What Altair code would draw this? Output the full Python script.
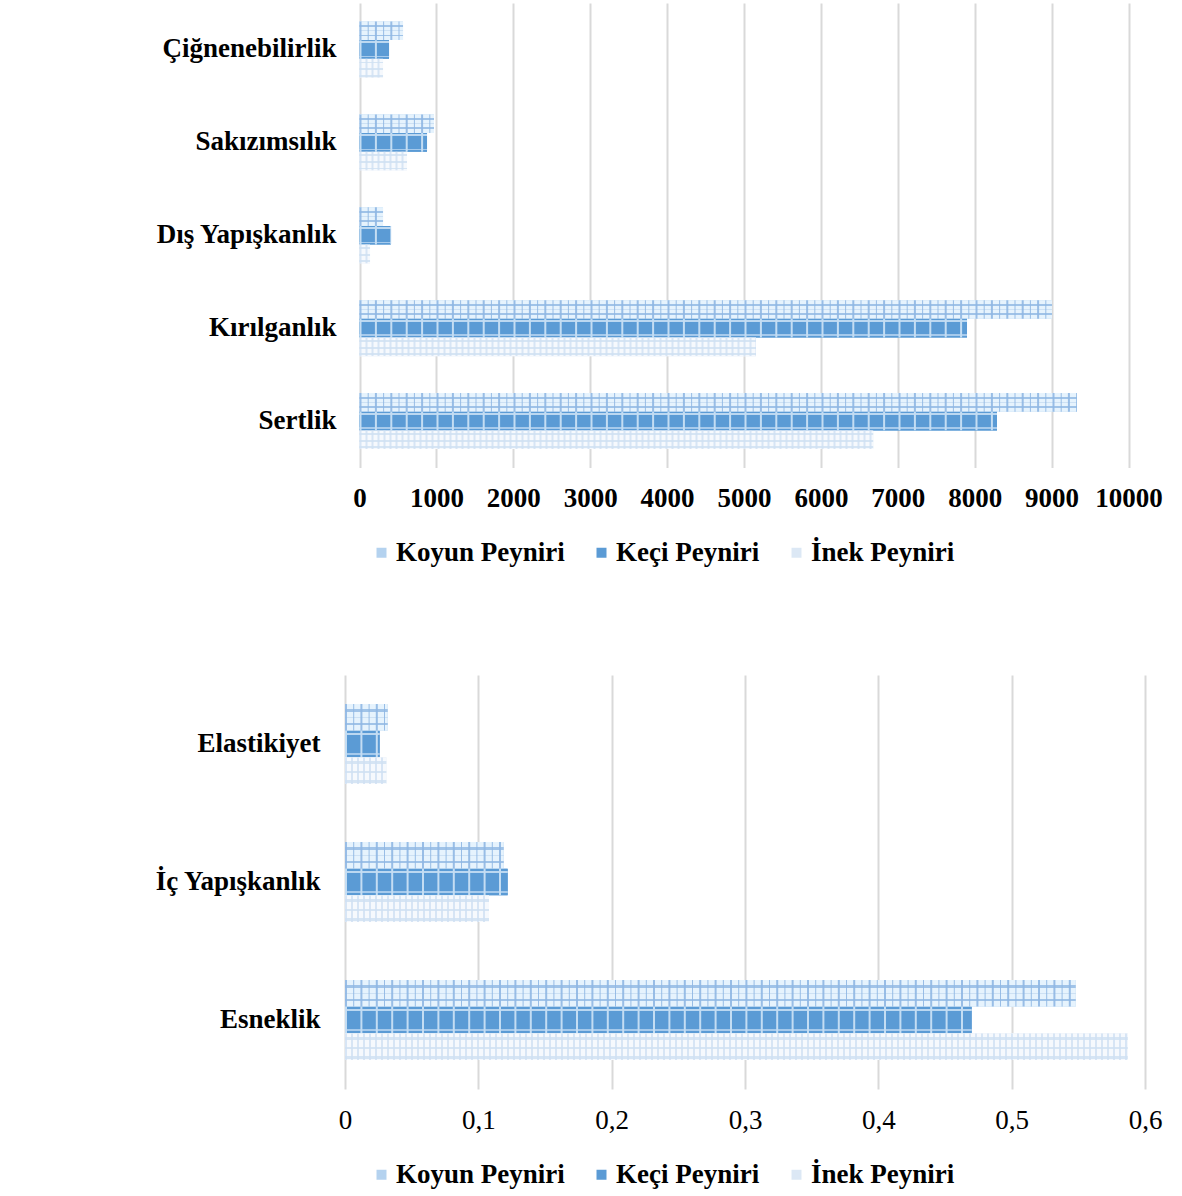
import altair as alt
import pandas as pd

# Series (cheese types), drawn top-to-bottom inside each category group
series = ["Koyun Peyniri", "Keçi Peyniri", "İnek Peyniri"]

# Upper panel: texture parameters measured in large units
top_categories = ["Çiğnenebilirlik", "Sakızımsılık", "Dış Yapışkanlık", "Kırılganlık", "Sertlik"]
top_koyun = [566, 969, 306, 9005, 9330]
top_keci = [384, 878, 410, 7900, 8290]
top_inek = [306, 618, 137, 5156, 6680]
top_ticks = [0, 1000, 2000, 3000, 4000, 5000, 6000, 7000, 8000, 9000, 10000]

# Lower panel: ratio-type texture parameters
bottom_categories = ["Elastikiyet", "İç Yapışkanlık", "Esneklik"]
bottom_koyun = [0.032, 0.119, 0.548]
bottom_keci = [0.026, 0.122, 0.470]
bottom_inek = [0.031, 0.108, 0.587]
bottom_ticks = [0, 0.1, 0.2, 0.3, 0.4, 0.5, 0.6]


def long_table(categories, koyun, keci, inek):
    rows = []
    for name, vals in zip(series, [koyun, keci, inek]):
        for c, v in zip(categories, vals):
            rows.append({"category": c, "series": name, "value": v})
    return pd.DataFrame(rows)


FONT = "Liberation Serif"
FS = 27
GRID = "#D9D9D9"

# legend swatch colours (one per series)
base_colors = ["#B4D2EF", "#5B9BD5", "#DCE8F5"]


def stops(pairs):
    out = []
    for (a, b, col) in pairs:
        out.append(alt.GradientStop(offset=a, color=col))
        out.append(alt.GradientStop(offset=b, color=col))
    return out


def grad(pairs):
    return alt.LinearGradient(gradient="linear", x1=0, x2=0, y1=0, y2=1, stops=stops(pairs))


# horizontal bands of each pattern fill
KL, KM = "#E6F3FD", "#A0C3E8"
koyun_fill = grad([(0, 0.2, KL), (0.2, 0.3, KM), (0.3, 0.47, KL), (0.47, 0.53, "#CDE1F4"),
                   (0.53, 0.7, KL), (0.7, 0.8, KM), (0.8, 1, KL)])
B, BL = "#5B9BD5", "#BCD8F1"
keci_fill = grad([(0, 0.07, B), (0.07, 0.15, BL), (0.15, 0.84, B), (0.84, 0.92, "#A6CAEC"), (0.92, 1, B)])
IL, ID = "#F6F9FD", "#D6E5F4"
inek_fill = grad([(0, 0.15, IL), (0.15, 0.25, ID), (0.25, 0.5, IL), (0.5, 0.6, ID), (0.6, 0.85, IL),
                  (0.85, 0.95, ID), (0.95, 1, IL)])

pattern = {
    "Koyun Peyniri": dict(fill=koyun_fill, line="#8FB7E3", dash=[2, 6.2, 1, 6.2], op=0.9),
    "Keçi Peyniri": dict(fill=keci_fill, line="#C4DDF3", dash=[2, 13.4], op=1.0),
    "İnek Peyniri": dict(fill=inek_fill, line="#CFE0F2", dash=[2, 4], op=0.8),
}


def panel(df, categories, ticks, domain, width, height, pad_inner, bar_h,
          x_bold, label_expr, y_label_pad, legend_y):
    y_enc = alt.Y(
        "category:N",
        sort=categories,
        scale=alt.Scale(domain=categories, paddingInner=pad_inner, paddingOuter=pad_inner / 2),
        axis=alt.Axis(title=None, ticks=False, domain=False, grid=False,
                      labelFont=FONT, labelFontSize=FS, labelFontWeight="bold",
                      labelColor="#000000", labelPadding=y_label_pad, labelLimit=400,
                      minExtent=200, maxExtent=200),
    )
    off_enc = alt.YOffset("series:N", sort=series,
                          scale=alt.Scale(domain=series, paddingInner=0, paddingOuter=0))
    x_axis = alt.Axis(title=None, values=ticks, ticks=False, domain=False, grid=True,
                      gridColor=GRID, gridWidth=2, labelFont=FONT, labelFontSize=FS,
                      labelFontWeight="bold" if x_bold else "normal", labelColor="#000000",
                      labelPadding=18, labelExpr=label_expr, labelFlush=False)
    x_scale = alt.Scale(domain=domain, nice=False, zero=False)

    base = alt.Chart(df).mark_bar().encode(
        x=alt.X("value:Q", scale=x_scale, axis=x_axis),
        y=y_enc,
        yOffset=off_enc,
        color=alt.Color(
            "series:N",
            scale=alt.Scale(domain=series, range=base_colors),
            legend=alt.Legend(title=None, orient="none", legendX=23, legendY=legend_y,
                              direction="horizontal", symbolType="square", symbolSize=100,
                              symbolStrokeWidth=0, labelFont=FONT, labelFontSize=FS,
                              labelFontWeight="bold", labelColor="#000000", labelOffset=1,
                              columnPadding=23, labelLimit=400),
        ),
    )
    layers = [base]
    for s in series:
        p = pattern[s]
        fill_layer = alt.Chart(df).transform_filter(alt.datum.series == s).mark_bar(
            fill=p["fill"]
        ).encode(x=alt.X("value:Q"), y=y_enc, yOffset=off_enc)
        line_layer = alt.Chart(df).transform_filter(alt.datum.series == s).transform_calculate(
            zero="0"
        ).mark_rule(
            color=p["line"], strokeDash=p["dash"], strokeWidth=bar_h, strokeCap="butt",
            opacity=p["op"]
        ).encode(x=alt.X("zero:Q"), x2="value:Q", y=y_enc, yOffset=off_enc)
        layers += [fill_layer, line_layer]
    return alt.layer(*layers).properties(width=width, height=height)


top_df = long_table(top_categories, top_koyun, top_keci, top_inek)
bottom_df = long_table(bottom_categories, bottom_koyun, bottom_keci, bottom_inek)

top = panel(top_df, top_categories, top_ticks, [-188.6, 10000], 783.5, 464.5, 0.397, 18.6,
            True, "format(datum.value, 'd')", 9, 536)
bottom = panel(bottom_df, bottom_categories, bottom_ticks, [0, 0.6], 800, 414, 0.42, 26.6,
               False, "replace(format(datum.value, '.1~f'), '.', ',')", 25, 486)

chart = alt.vconcat(top, bottom, spacing=109).resolve_scale(
    x="independent", y="independent", yOffset="independent", color="independent"
).resolve_legend(color="independent").properties(
    padding={"left": 145, "top": 3, "right": 10, "bottom": 5}
).configure_view(stroke=None)

chart.save("out.html", embed_options={"renderer": "svg", "actions": False})
